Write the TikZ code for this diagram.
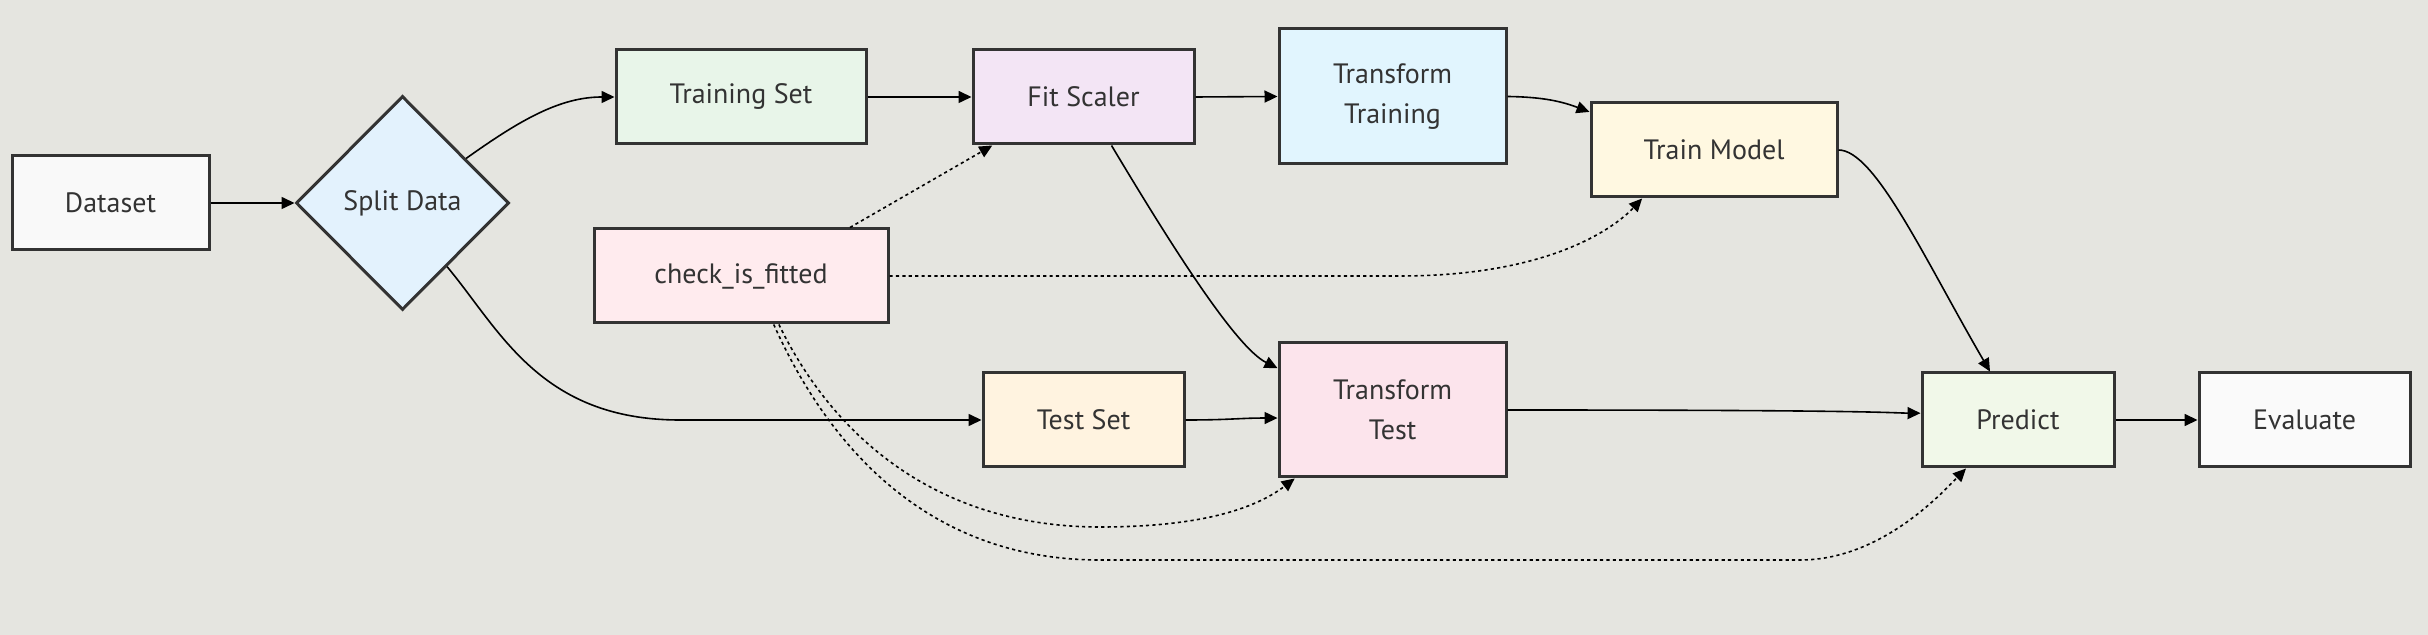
\documentclass[tikz,border=0pt]{standalone}
\usepackage{fontspec}
\setmainfont{PT Sans}
\usetikzlibrary{arrows.meta,shapes.geometric}
\definecolor{bg}{HTML}{E5E5E0}
\definecolor{strokec}{HTML}{333333}
\definecolor{textc}{HTML}{333333}
\definecolor{cDataset}{HTML}{F9F9F9}
\definecolor{cSplit}{HTML}{E3F2FD}
\definecolor{cTrainSet}{HTML}{E8F5E9}
\definecolor{cFit}{HTML}{F3E5F5}
\definecolor{cTTrain}{HTML}{E1F5FE}
\definecolor{cCheck}{HTML}{FFEBEE}
\definecolor{cTestSet}{HTML}{FFF3E0}
\definecolor{cTTest}{HTML}{FCE4EC}
\definecolor{cModel}{HTML}{FFF8E1}
\definecolor{cPredict}{HTML}{F1F8E9}
\definecolor{cEval}{HTML}{FAFAFA}
\begin{document}
\begin{tikzpicture}[x=0.5pt,y=-0.5pt,
  box/.style={draw=strokec, line width=1.5pt, text=textc,
    font=\fontsize{14}{20}\selectfont, inner sep=0pt, align=center,
    minimum height=47pt},
  edge/.style={-{Triangle[length=6.5pt,width=6pt]}, line width=0.8pt, black},
  dots/.style={edge, dash pattern=on 1.6pt off 1.6pt}]
\useasboundingbox[fill=bg] (0,0) rectangle (2428,635);
% nodes
\node[box, fill=cDataset, minimum width=98.5pt] (dataset) at (110.5,203) {Dataset};
\node[box, diamond, aspect=1, fill=cSplit, minimum width=106.5pt, minimum height=107pt] (split) at (402.5,203) {Split Data};
\node[box, fill=cTrainSet, minimum width=125pt] (trainset) at (741,97) {Training Set};
\node[box, fill=cFit, minimum width=110.5pt] (fitscaler) at (1083.5,97) {Fit Scaler};
\node[box, fill=cTTrain, minimum width=113.5pt, minimum height=67.5pt] (transformtraining) at (1392.5,96.5) {Transform\\Training};
\node[box, fill=cCheck, minimum width=147pt] (check) at (741,276) {check\_is\_fitted};
\node[box, fill=cTestSet, minimum width=100.5pt] (testset) at (1083.5,420) {Test Set};
\node[box, fill=cTTest, minimum width=113.5pt, minimum height=67pt] (transformtest) at (1392.5,410) {Transform\\Test};
\node[box, fill=cModel, minimum width=123pt] (trainmodel) at (1714,150) {Train Model};
\node[box, fill=cPredict, minimum width=96pt] (predict) at (2018,420) {Predict};
\node[box, fill=cEval, minimum width=105.5pt] (evaluate) at (2304.5,420) {Evaluate};
% solid edges
\draw[edge] (dataset.east) -- (split.west);
\draw[edge] (split.35) .. controls (520,120) and (560,97) .. (trainset.west);
\draw[edge] (split.-55) .. controls (500,330) and (540,420) .. (680,420) -- (testset.west);
\draw[edge] (trainset.east) -- (fitscaler.west);
\draw[edge] (fitscaler.east) -- (transformtraining.west);
\draw[edge] (transformtraining.east) .. controls (1545,97) and (1563,102) .. (trainmodel.163);
\draw[edge] (fitscaler.-60) .. controls (1168,240) and (1235,347) .. (transformtest.160);
\draw[edge] (testset.east) .. controls (1230,420) and (1240,418) .. (transformtest.184);
\draw[edge] (transformtest.east) .. controls (1880,410) and (1890,413) .. (predict.176);
\draw[edge] (trainmodel.east) .. controls (1875,150) and (1925,260) .. (predict.120);
\draw[edge] (predict.east) -- (evaluate.west);
% dotted edges
\draw[dots] (check.24) -- (fitscaler.208);
\draw[dots] (check.east) -- (1400,276) .. controls (1560,276) and (1621,221) .. (trainmodel.214);
\draw[dots] (check.-52) .. controls (835,440) and (940,527) .. (1100,527) .. controls (1210,527) and (1260,505) .. (transformtest.215);
\draw[dots] (check.-56) .. controls (830,450) and (930,560) .. (1100,560) -- (1800,560) .. controls (1880,560) and (1940,495) .. (predict.223);
\end{tikzpicture}
\end{document}
